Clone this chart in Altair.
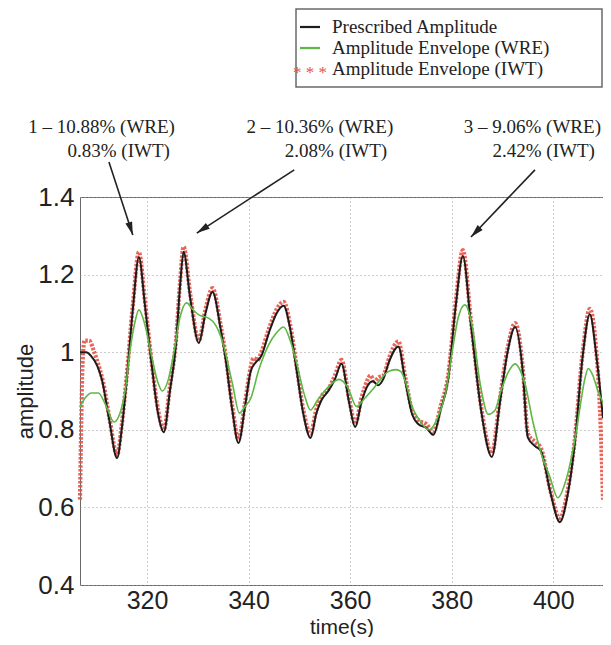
import altair as alt
import pandas as pd

# ---------------- data ----------------
pres_time = [306.8, 308.0, 309.0, 310.2, 311.1, 312.5, 314.1, 315.0, 316.0, 317.2, 318.4, 319.6, 320.9, 322.2,
             323.3, 324.5, 325.7, 326.5, 327.2, 328.5, 330.2, 331.5, 332.9, 334.5, 335.5, 336.8, 338.0, 339.3,
             340.4, 341.5, 342.5, 344.0, 345.5, 346.9, 348.2, 349.5, 350.8, 352.2, 353.3, 354.3, 355.7, 357.0,
             358.3, 359.8, 361.0, 362.2, 363.5, 364.5, 365.5, 366.5, 367.8, 369.5, 370.8, 372.2, 373.4, 375.0,
             376.4, 377.8, 379.3, 380.8, 382.2, 383.8, 385.8, 387.9, 389.5, 391.0, 392.5, 394.0, 395.0, 396.5,
             397.6, 399.5, 401.3, 402.8, 404.2, 405.8, 407.2, 408.5, 409.8]
pres_amp = [1.00, 1.00, 0.99, 0.965, 0.93, 0.83, 0.727, 0.80, 0.93, 1.11, 1.245, 1.12, 0.97, 0.84,
            0.794, 0.90, 1.02, 1.17, 1.258, 1.14, 1.024, 1.10, 1.155, 1.06, 0.98, 0.85, 0.766, 0.86,
            0.95, 0.975, 0.99, 1.05, 1.10, 1.12, 1.06, 0.95, 0.84, 0.779, 0.84, 0.875, 0.90, 0.93,
            0.97, 0.87, 0.807, 0.87, 0.915, 0.925, 0.915, 0.93, 0.98, 1.015, 0.93, 0.84, 0.815, 0.805,
            0.787, 0.85, 0.93, 1.12, 1.248, 1.07, 0.85, 0.73, 0.87, 1.00, 1.065, 0.95, 0.78, 0.757,
            0.745, 0.635, 0.562, 0.63, 0.76, 0.99, 1.098, 0.99, 0.83]

wre_time = [306.8, 308.0, 309.0, 310.4, 312.0, 313.5, 314.6, 315.8, 316.6, 317.5, 318.4, 319.6, 320.9, 322.2,
            323.0, 324.2, 325.3, 326.5, 327.8, 329.0, 330.2, 332.1, 333.5, 334.8, 336.8, 338.2, 339.3, 340.4,
            342.0, 344.0, 345.5, 346.9, 348.2, 349.5, 351.0, 352.2, 353.5, 355.0, 356.5, 357.8, 359.5, 361.3,
            362.8, 364.5, 366.0, 367.5, 369.0, 370.0, 371.0, 372.2, 373.4, 375.6, 377.2, 378.7, 380.2, 381.3,
            382.6, 384.0, 385.6, 387.2, 388.5, 389.7, 391.2, 392.5, 393.6, 394.6, 396.0, 397.6, 399.3, 400.9,
            402.5, 404.2, 405.3, 406.2, 406.9, 407.8, 408.8, 409.8]
wre_amp = [0.86, 0.885, 0.895, 0.895, 0.86, 0.82, 0.84, 0.91, 1.00, 1.07, 1.109, 1.07, 0.99, 0.92,
           0.90, 0.93, 1.00, 1.09, 1.127, 1.11, 1.096, 1.088, 1.07, 1.03, 0.92, 0.843, 0.86, 0.88,
           0.954, 1.02, 1.05, 1.065, 1.03, 0.97, 0.89, 0.851, 0.875, 0.90, 0.92, 0.93, 0.91, 0.86,
           0.88, 0.905, 0.93, 0.95, 0.955, 0.95, 0.92, 0.86, 0.83, 0.80, 0.83, 0.89, 1.01, 1.09,
           1.122, 1.07, 0.92, 0.84, 0.85, 0.90, 0.95, 0.97, 0.95, 0.91, 0.82, 0.74, 0.68, 0.625,
           0.67, 0.77, 0.86, 0.93, 0.958, 0.94, 0.90, 0.87]

iwt_time = [306.8, 307.0, 307.3, 307.7, 308.6, 309.6, 310.6, 311.4, 312.6, 314.1, 315.0, 316.0, 317.2, 318.4,
            319.6, 320.9, 322.2, 323.3, 324.5, 325.7, 326.5, 327.2, 328.5, 330.2, 331.5, 332.9, 334.5, 335.5,
            336.8, 338.0, 339.3, 340.4, 341.0, 341.8, 342.5, 344.0, 345.5, 346.9, 348.2, 349.5, 350.8, 352.2,
            353.3, 354.3, 355.7, 357.0, 358.3, 359.8, 361.0, 362.2, 363.3, 364.0, 364.8, 365.6, 366.5, 367.8,
            369.5, 370.8, 372.2, 373.4, 375.0, 376.4, 377.8, 379.3, 380.8, 382.2, 383.8, 385.8, 387.9, 389.5,
            391.0, 392.5, 394.0, 395.0, 396.5, 397.6, 399.5, 401.3, 402.8, 404.2, 405.8, 407.2, 408.5, 409.1,
            409.5, 409.8]
iwt_amp = [0.62, 0.78, 0.97, 1.03, 1.03, 1.00, 0.96, 0.92, 0.83, 0.735, 0.81, 0.94, 1.12, 1.258,
           1.13, 0.975, 0.85, 0.80, 0.91, 1.03, 1.18, 1.272, 1.15, 1.03, 1.11, 1.165, 1.07, 0.99,
           0.86, 0.775, 0.87, 0.96, 0.985, 0.98, 1.00, 1.06, 1.11, 1.13, 1.07, 0.96, 0.85, 0.79,
           0.85, 0.885, 0.905, 0.94, 0.98, 0.88, 0.815, 0.88, 0.925, 0.94, 0.925, 0.935, 0.94, 0.99,
           1.028, 0.94, 0.85, 0.825, 0.815, 0.795, 0.86, 0.94, 1.13, 1.263, 1.08, 0.86, 0.74, 0.88,
           1.01, 1.075, 0.96, 0.79, 0.768, 0.752, 0.64, 0.572, 0.64, 0.77, 1.00, 1.112, 1.00, 0.88,
           0.75, 0.62]

x_domain = [306.8, 409.8]
y_domain = [0.4, 1.4]
x_ticks = [320, 340, 360, 380, 400]
y_ticks = [0.4, 0.6, 0.8, 1.0, 1.2, 1.4]

legend_labels = ["Prescribed Amplitude", "Amplitude Envelope (WRE)", "Amplitude Envelope (IWT)"]

ann_line1 = ["1 \u2013 10.88% (WRE)", "2 \u2013 10.36% (WRE)", "3 \u2013 9.06% (WRE)"]
ann_line2 = ["0.83% (IWT)", "2.08% (IWT)", "2.42% (IWT)"]
ann_line1_time = [325.5, 368.5, 409.4]
ann_line2_time = [324.5, 367.3, 408.2]
ann_line1_amp = [1.580, 1.580, 1.580]
ann_line2_amp = [1.519, 1.519, 1.519]
arrow_start_time = [312.5, 349.0, 396.4]
arrow_start_amp = [1.490, 1.470, 1.470]
arrow_tip_time = [317.2, 329.8, 383.8]
arrow_tip_amp = [1.302, 1.307, 1.297]
arrow_angle = [162, 237, 224]

# ---------------- styling ----------------
SANS = "Liberation Sans"
SERIF = "Liberation Serif"
BLACK = "#1c1c1c"
GREEN = "#5db845"
RED = "#e5544a"

xs = alt.Scale(domain=x_domain, nice=False, zero=False)
ys = alt.Scale(domain=y_domain, nice=False, zero=False)

x_axis = alt.Axis(values=x_ticks, title="time(s)", grid=True, gridDash=[1, 3], gridColor="#9a9a9a",
                  domain=False, ticks=False, labelFont=SANS, labelFontSize=25, labelColor="#222",
                  labelPadding=3, labelFlush=False, titleFont=SANS, titleFontSize=21,
                  titleFontWeight="normal", titleColor="#222", titleY=48, titleBaseline="alphabetic")
y_axis = alt.Axis(values=y_ticks, format="~g", title="amplitude", grid=True, gridDash=[1, 3],
                  gridColor="#9a9a9a", domain=False, ticks=False, labelFont=SANS, labelFontSize=26,
                  labelColor="#222", labelPadding=6, labelFlush=False, titleFont=SANS, titleFontSize=22,
                  titleFontWeight="normal", titleColor="#222", titleAngle=270, titleX=-48, titleY=194,
                  titleAlign="center", titleBaseline="alphabetic")

X = alt.X("time:Q", scale=xs, axis=x_axis)
Y = alt.Y("amp:Q", scale=ys, axis=y_axis)

pres_df = pd.DataFrame({"time": pres_time, "amp": pres_amp})
wre_df = pd.DataFrame({"time": wre_time, "amp": wre_amp})
iwt_df = pd.DataFrame({"time": iwt_time, "amp": iwt_amp})

iwt_line = alt.Chart(iwt_df).mark_line(color=RED, strokeWidth=4.2, strokeDash=[2.5, 1.5], opacity=0.9,
                                       interpolate="monotone").encode(x=X, y=Y)
pres_line = alt.Chart(pres_df).mark_line(color=BLACK, strokeWidth=2, interpolate="monotone").encode(x=X, y=Y)
wre_line = alt.Chart(wre_df).mark_line(color=GREEN, strokeWidth=1.6, interpolate="monotone").encode(x=X, y=Y)

ann1_df = pd.DataFrame({"time": ann_line1_time, "amp": ann_line1_amp, "label": ann_line1})
ann2_df = pd.DataFrame({"time": ann_line2_time, "amp": ann_line2_amp, "label": ann_line2})
ann1 = alt.Chart(ann1_df).mark_text(align="right", baseline="middle", font=SERIF, fontSize=19,
                                    color="#222").encode(x=X, y=Y, text="label:N")
ann2 = alt.Chart(ann2_df).mark_text(align="right", baseline="middle", font=SERIF, fontSize=19,
                                    color="#222").encode(x=X, y=Y, text="label:N")

arrow_df = pd.DataFrame({"time": arrow_start_time, "amp": arrow_start_amp,
                         "time2": arrow_tip_time, "amp2": arrow_tip_amp})
arrows = alt.Chart(arrow_df).mark_rule(color="#222", strokeWidth=1.6).encode(
    x=X, y=Y, x2="time2:Q", y2="amp2:Q")
head_df = pd.DataFrame({"time": arrow_tip_time, "amp": arrow_tip_amp, "angle": arrow_angle})
heads = alt.Chart(head_df).mark_point(shape="M0,0L-0.36,1.35L0.36,1.35Z", filled=True, size=380,
                                      color="#222", opacity=1).encode(
    x=X, y=Y, angle=alt.Angle("angle:Q", scale=None))

# ---------------- legend (boxed, top right) ----------------
one = pd.DataFrame({"k": [0]})
legend_box = alt.Chart(one).mark_rect(fill="white", stroke="#6a6a6a", strokeWidth=1.5).encode(
    x=alt.value(216), x2=alt.value(522), y=alt.value(-188), y2=alt.value(-110))
leg_rows = [-170, -149, -128]
legend_layers = [legend_box]
for lab, yy in zip(legend_labels, leg_rows):
    legend_layers.append(
        alt.Chart(pd.DataFrame({"label": [lab]})).mark_text(
            align="left", baseline="middle", font=SERIF, fontSize=19, color="#222").encode(
            x=alt.value(252), y=alt.value(yy), text="label:N"))
legend_layers.append(alt.Chart(one).mark_rule(color=BLACK, strokeWidth=2.2).encode(
    x=alt.value(220), x2=alt.value(240), y=alt.value(leg_rows[0])))
legend_layers.append(alt.Chart(one).mark_rule(color=GREEN, strokeWidth=2.2).encode(
    x=alt.value(220), x2=alt.value(240), y=alt.value(leg_rows[1])))
legend_layers.append(alt.Chart(pd.DataFrame({"s": ["* * *"]})).mark_text(
    align="center", baseline="middle", font=SERIF, fontSize=17, color=RED).encode(
    x=alt.value(230), y=alt.value(leg_rows[2] + 4), text="s:N"))

chart = alt.layer(
    iwt_line, pres_line, wre_line, arrows, heads, ann1, ann2, *legend_layers
).properties(
    width=523, height=388,
    autosize=alt.AutoSizeParams(type="none"),
    padding={"left": 72, "top": 189, "right": 0, "bottom": 52},
    background="white",
).configure_view(stroke="#6a6a6a", strokeWidth=1)

chart.save("out.html", embed_options={"renderer": "svg", "actions": False})
